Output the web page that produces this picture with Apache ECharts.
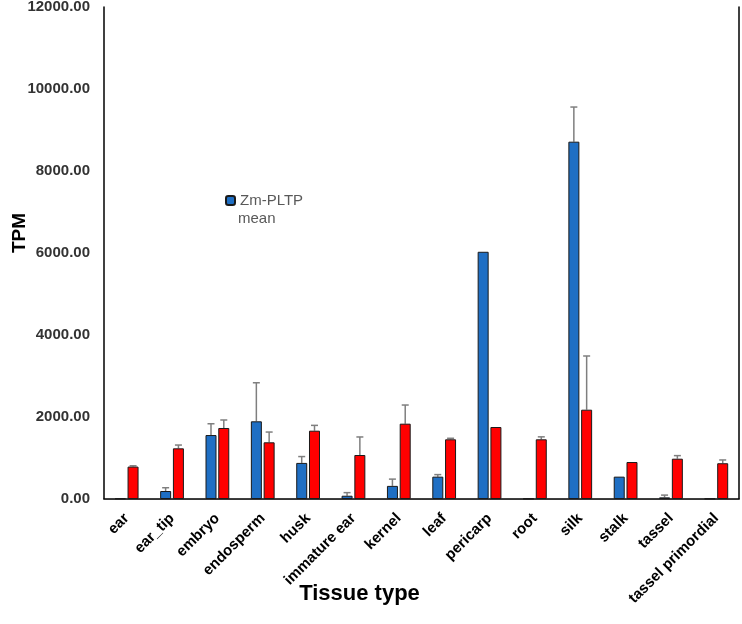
<!DOCTYPE html>
<html>
<head>
<meta charset="utf-8">
<script src="https://cdn.jsdelivr.net/npm/echarts@6/dist/echarts.min.js"></script>
<style>html,body{margin:0;padding:0;background:#fff}#c{width:742px;height:624px}</style>
</head>
<body>
<div id="c"></div>
<script>
var categories = ['ear','ear_tip','embryo','endosperm','husk','immature ear','kernel','leaf','pericarp','root','silk','stalk','tassel','tassel primordial'];
var pltpMean = [15, 195, 1560, 1895, 880, 80, 320, 545, 6030, 10, 8715, 545, 40, 10];
var pltpErr  = [0, 80, 275, 940, 155, 75, 165, 50, 0, 0, 845, 0, 55, 0];
var otherMean = [790, 1236, 1732, 1383, 1666, 1073, 1837, 1456, 1756, 1456, 2178, 902, 983, 872];
var otherErr  = [20, 80, 195, 250, 130, 440, 455, 25, 0, 60, 1310, 0, 75, 80];
var yTicks = [0, 2000, 4000, 6000, 8000, 10000, 12000];

var chart = echarts.init(document.getElementById('c'));
var FONT = 'Liberation Sans, Arial, sans-serif';

function errSeries(means, errs, offset) {
  var data = means.map(function (m, i) { return [i, m, m + errs[i]]; });
  return {
    type: 'custom',
    silent: true,
    z: 1,
    renderItem: function (params, api) {
      var i = api.value(0);
      if (api.value(2) <= api.value(1)) return null;
      var lo = api.coord([i, api.value(1)]);
      var hi = api.coord([i, api.value(2)]);
      var x = lo[0] + offset;
      var style = { stroke: '#7f7f7f', lineWidth: 1.5 };
      return {
        type: 'group',
        children: [
          { type: 'line', shape: { x1: x, y1: lo[1], x2: x, y2: hi[1] }, style: style },
          { type: 'line', shape: { x1: x - 3.5, y1: hi[1], x2: x + 3.5, y2: hi[1] }, style: style }
        ]
      };
    },
    data: data
  };
}

chart.setOption({
  animation: false,
  grid: { left: 104, right: 3, top: 7, bottom: 125, containLabel: false, outerBoundsMode: 'none' },
  legend: {
    left: 225, top: 193, padding: 0,
    data: [{ name: 'Zm-PLTP mean' }],
    formatter: function () { return 'Zm-PLTP'; },
    itemWidth: 9, itemHeight: 9,
    textStyle: { color: '#595959', fontSize: 15, fontFamily: FONT }
  },
  graphic: [{
    type: 'text', left: 238, top: 211,
    style: { text: 'mean', fill: '#595959', font: '15px ' + FONT }
  }],
  xAxis: [{
    type: 'category',
    data: categories,
    axisLine: { lineStyle: { color: '#d9d9d9', width: 1 } },
    axisTick: { show: false },
    axisLabel: { rotate: 45, interval: 0, color: '#000', fontWeight: 'bold', fontSize: 15, fontFamily: FONT, margin: 17 },
    name: 'Tissue type',
    nameLocation: 'middle',
    nameGap: 84,
    nameMoveOverlap: false,
    nameTextStyle: { color: '#000', fontWeight: 'bold', fontSize: 22, fontFamily: FONT, padding: [0, 124, 0, 0] }
  }, {
    type: 'category',
    position: 'top',
    data: categories,
    axisLine: { lineStyle: { color: '#000', width: 1.5 } },
    axisTick: { show: false },
    axisLabel: { show: false }
  }],
  yAxis: [{
    type: 'value',
    min: yTicks[0], max: yTicks[yTicks.length - 1], interval: 2000,
    axisLine: { show: true, lineStyle: { color: '#000', width: 1.5 } },
    axisTick: { show: false },
    splitLine: { show: false },
    axisLabel: { color: '#333', fontWeight: 'bold', fontSize: 15, fontFamily: FONT, margin: 14,
      formatter: function (v) { return v.toFixed(2); } },
    name: 'TPM',
    nameLocation: 'middle',
    nameGap: 75,
    nameMoveOverlap: false,
    nameTextStyle: { color: '#000', fontWeight: 'bold', fontSize: 19, fontFamily: FONT, padding: [0, 0, 0, 40] }
  }, {
    type: 'value',
    position: 'right',
    min: yTicks[0], max: yTicks[yTicks.length - 1], interval: 2000,
    axisLine: { show: true, lineStyle: { color: '#000', width: 1.5 } },
    axisTick: { show: false },
    splitLine: { show: false },
    axisLabel: { show: false }
  }],
  series: [{
    name: 'Zm-PLTP mean',
    type: 'bar',
    barWidth: 11,
    barGap: '16%',
    itemStyle: { color: '#1f6fc4', borderColor: '#1a1a1a', borderWidth: 1 },
    z: 2,
    data: pltpMean
  }, {
    name: 'other',
    type: 'bar',
    barWidth: 11,
    barGap: '16%',
    itemStyle: { color: '#ff0000', borderColor: '#1a1a1a', borderWidth: 1 },
    z: 2,
    data: otherMean
  },
  errSeries(pltpMean, pltpErr, -6.4),
  errSeries(otherMean, otherErr, 6.4)
  ]
});
</script>
</body>
</html>
